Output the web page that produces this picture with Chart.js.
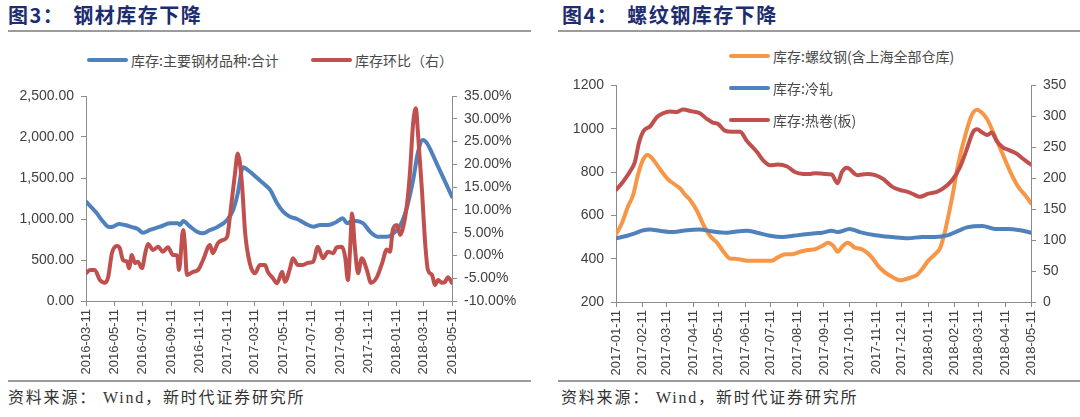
<!DOCTYPE html>
<html lang="zh-CN">
<head>
<meta charset="utf-8">
<script src="https://cdn.jsdelivr.net/npm/chart.js@4.4.1/dist/chart.umd.min.js"></script>
<style>
  html, body { margin: 0; padding: 0; background: #fff; }
  body { width: 1080px; height: 417px; position: relative; overflow: hidden; font-family: "Noto Sans CJK SC", sans-serif; }
  .title { position: absolute; top: 3px; font-size: 20px; font-weight: 700; color: #1d2d6f; white-space: pre; line-height: 24px; letter-spacing: 1.5px; }
  .title span + span { margin-left: 9px; }
  .rule { position: absolute; height: 2px; background: #9b9b9b; }
  .source { position: absolute; top: 388px; font-family: "Liberation Serif", "Noto Sans CJK SC", serif; font-size: 16px; line-height: 20px; color: #333; white-space: pre; letter-spacing: 1.8px; }
  .source span { margin-left: 6px; }
  .lg { position: absolute; display: flex; align-items: center; font-size: 14px; line-height: 18px; color: #4a4a4a; white-space: nowrap; }
  .lg i { display: block; width: 41px; height: 4px; border-radius: 2px; margin-right: 3px; }
  canvas { position: absolute; }
</style>
</head>
<body>
<div class="title" style="left:8px"><span>图3：</span><span>钢材库存下降</span></div>
<div class="title" style="left:562px"><span>图4：</span><span>螺纹钢库存下降</span></div>
<div class="rule" style="left:8px;width:523px;top:30px"></div>
<div class="rule" style="left:558px;width:522px;top:30px"></div>
<div class="rule" style="left:8px;width:523px;top:380px"></div>
<div class="rule" style="left:558px;width:522px;top:380px"></div>
<div class="source" style="left:8px">资料来源：<span>Wind，新时代证券研究所</span></div>
<div class="source" style="left:561px">资料来源：<span>Wind，新时代证券研究所</span></div>

<canvas id="steelChart" width="540" height="300" style="left:0;top:80px;width:540px;height:300px"></canvas>
<canvas id="rebarChart" width="540" height="310" style="left:540px;top:70px;width:540px;height:310px"></canvas>

<script>
// ---- 图3 钢材库存 ----
const steelTicks = ['2016-03-11', '2016-05-11', '2016-07-11', '2016-09-11', '2016-11-11', '2017-01-11', '2017-03-11',
  '2017-05-11', '2017-07-11', '2017-09-11', '2017-11-11', '2018-01-11', '2018-03-11', '2018-05-11'];
const steelNames = ['库存:主要钢材品种:合计', '库存环比（右）'];

const steelTotalDates = ['2016-03-11', '2016-04-03', '2016-04-17', '2016-04-30', '2016-05-08', '2016-05-21', '2016-06-03',
  '2016-06-18', '2016-07-01', '2016-07-12', '2016-07-27', '2016-08-18', '2016-09-09', '2016-09-26', '2016-09-30',
  '2016-10-07', '2016-10-22', '2016-11-06', '2016-11-19', '2016-12-04', '2016-12-21', '2017-01-10', '2017-01-23',
  '2017-02-02', '2017-02-13', '2017-02-24', '2017-03-16', '2017-03-29', '2017-04-13', '2017-04-28', '2017-05-11',
  '2017-05-26', '2017-06-10', '2017-06-27', '2017-07-15', '2017-07-30', '2017-08-16', '2017-09-04', '2017-09-17',
  '2017-09-26', '2017-10-09', '2017-10-31', '2017-11-15', '2017-12-02', '2017-12-21', '2018-01-12', '2018-01-23',
  '2018-02-03', '2018-02-16', '2018-02-26', '2018-03-09', '2018-03-18', '2018-03-29', '2018-04-11', '2018-04-26',
  '2018-05-11'];
const steelTotal = [1211, 1073, 967, 902, 906, 939, 927, 902, 878, 833, 866, 906, 947, 947, 927, 975, 906, 845, 825, 866,
  906, 988, 1110, 1313, 1630, 1597, 1500, 1435, 1354, 1191, 1089, 1028, 1000, 947, 906, 927, 927, 967, 1008, 947, 979,
  947, 845, 784, 784, 866, 967, 1150, 1476, 1801, 1963, 1923, 1801, 1638, 1455, 1272];

const steelChgDates = ['2016-03-11', '2016-03-20', '2016-03-30', '2016-04-10', '2016-04-21', '2016-04-28', '2016-05-06',
  '2016-05-17', '2016-05-23', '2016-05-30', '2016-06-08', '2016-06-12', '2016-06-18', '2016-06-25', '2016-07-01',
  '2016-07-10', '2016-07-17', '2016-07-23', '2016-08-03', '2016-08-14', '2016-08-24', '2016-09-04', '2016-09-15',
  '2016-09-24', '2016-09-28', '2016-10-07', '2016-10-11', '2016-10-15', '2016-10-28', '2016-11-08', '2016-11-19',
  '2016-12-04', '2016-12-10', '2016-12-21', '2017-01-01', '2017-01-10', '2017-01-16', '2017-01-27', '2017-02-02',
  '2017-02-11', '2017-02-18', '2017-02-28', '2017-03-11', '2017-03-22', '2017-04-02', '2017-04-08', '2017-04-19',
  '2017-04-28', '2017-05-09', '2017-05-15', '2017-05-26', '2017-06-01', '2017-06-12', '2017-06-23', '2017-07-04',
  '2017-07-15', '2017-07-25', '2017-08-05', '2017-08-16', '2017-08-27', '2017-09-04', '2017-09-15', '2017-09-22',
  '2017-09-28', '2017-10-03', '2017-10-07', '2017-10-13', '2017-10-20', '2017-10-28', '2017-11-08', '2017-11-17',
  '2017-11-30', '2017-12-11', '2017-12-21', '2017-12-28', '2018-01-03', '2018-01-12', '2018-01-19', '2018-01-25',
  '2018-02-03', '2018-02-09', '2018-02-16', '2018-02-22', '2018-02-26', '2018-03-07', '2018-03-14', '2018-03-20',
  '2018-03-29', '2018-04-04', '2018-04-11', '2018-04-19', '2018-04-26', '2018-05-02', '2018-05-11'];
const steelChg = [-3.9, -3.2, -3.2, -5.4, -6.0, -4.7, 0.5, 2.1, 1.6, -1.0,
  -1.4, -2.8, 0.1, -1.7, -1.4, -2.8, 0.5, 2.5, 1.2, 1.9,
  0.8, 1.8, 0.1, 0.0, -3.2, 5.6, 1.9, -4.3, -3.6, -3.2,
  -1.0, 2.3, 0.5, 2.7, 3.4, 4.1, 8.5, 18.0, 22.4, 15.8,
  4.9, -1.7, -3.9, -2.1, -2.1, -3.6, -5.0, -6.1, -3.6, -5.8,
  -2.8, -0.6, -2.1, -2.1, -1.6, -1.4, 1.9, -0.6, 0.8, 0.5,
  1.8, 1.9, -0.3, -5.4, 1.9, 9.2, 1.9, -3.9, -0.6, -3.2,
  -6.0, -4.7, -1.7, 1.3, 0.8, 5.6, 6.7, 4.5, 6.0, 11.4,
  18.0, 29.0, 32.3, 27.5, 14.4, 2.7, -3.2, -4.3, -6.5, -5.4,
  -6.0, -5.8, -4.8, -6.0];

// ---- 图4 螺纹钢库存 ----
const rebarTicks = ['2017-01-11', '2017-02-11', '2017-03-11', '2017-04-11', '2017-05-11', '2017-06-11', '2017-07-11',
  '2017-08-11', '2017-09-11', '2017-10-11', '2017-11-11', '2017-12-11', '2018-01-11', '2018-02-11', '2018-03-11',
  '2018-04-11', '2018-05-11'];
const rebarNames = ['库存:螺纹钢(含上海全部仓库)', '库存:冷轧', '库存:热卷(板)'];

const rebarDates = ['2017-01-11', '2017-01-18', '2017-01-25', '2017-01-31', '2017-02-06', '2017-02-12', '2017-02-17',
  '2017-02-23', '2017-03-03', '2017-03-12', '2017-03-19', '2017-03-27', '2017-04-02', '2017-04-07', '2017-04-16',
  '2017-04-23', '2017-05-01', '2017-05-09', '2017-05-16', '2017-05-24', '2017-06-01', '2017-06-13', '2017-06-25',
  '2017-07-04', '2017-07-12', '2017-07-19', '2017-07-28', '2017-08-05', '2017-08-14', '2017-08-23', '2017-09-01',
  '2017-09-09', '2017-09-16', '2017-09-22', '2017-09-27', '2017-10-03', '2017-10-09', '2017-10-17', '2017-10-25',
  '2017-10-31', '2017-11-06', '2017-11-13', '2017-11-21', '2017-11-30', '2017-12-09', '2017-12-15', '2017-12-23',
  '2017-12-29', '2018-01-04', '2018-01-11', '2018-01-19', '2018-01-25', '2018-01-31', '2018-02-08', '2018-02-15',
  '2018-02-23', '2018-03-03', '2018-03-09', '2018-03-15', '2018-03-21', '2018-03-28', '2018-04-07', '2018-04-16',
  '2018-04-26', '2018-05-04', '2018-05-11'];
const rebarStock = [512, 565, 641, 694, 792, 860, 879, 860, 815, 770,
  747, 724, 694, 674, 618, 558, 505, 474, 436, 401,
  399, 391, 391, 391, 391, 406, 421, 421, 432, 440,
  444, 459, 474, 459, 432, 459, 474, 451, 444, 429,
  406, 368, 338, 315, 300, 305, 315, 326, 353, 391,
  421, 451, 535, 686, 838, 967, 1065, 1088, 1073, 1042,
  982, 891, 808, 732, 694, 656];

const coldDates = ['2017-01-11', '2017-01-24', '2017-02-02', '2017-02-12', '2017-02-20', '2017-03-03', '2017-03-19',
  '2017-04-04', '2017-04-19', '2017-05-04', '2017-05-21', '2017-06-01', '2017-06-13', '2017-06-25', '2017-07-10',
  '2017-07-25', '2017-08-06', '2017-08-18', '2017-09-01', '2017-09-09', '2017-09-20', '2017-09-27', '2017-10-11',
  '2017-10-23', '2017-11-10', '2017-11-30', '2017-12-18', '2018-01-04', '2018-01-19', '2018-02-03', '2018-02-15',
  '2018-02-26', '2018-03-15', '2018-03-30', '2018-04-14', '2018-04-28', '2018-05-11'];
const coldStock = [103, 107, 111, 116, 117, 115, 113, 116, 117, 114,
  112, 114, 115, 112, 107, 105, 107, 109, 111, 112,
  115, 113, 118, 113, 108, 105, 103, 105, 105, 108,
  115, 121, 123, 118, 118, 116, 112];

const hotDates = ['2017-01-11', '2017-01-19', '2017-01-27', '2017-02-02', '2017-02-07', '2017-02-12', '2017-02-20',
  '2017-02-28', '2017-03-07', '2017-03-15', '2017-03-23', '2017-03-30', '2017-04-10', '2017-04-19', '2017-04-27',
  '2017-05-04', '2017-05-10', '2017-05-18', '2017-05-27', '2017-06-05', '2017-06-13', '2017-06-25', '2017-07-02',
  '2017-07-10', '2017-07-19', '2017-07-30', '2017-08-08', '2017-08-18', '2017-08-26', '2017-09-01', '2017-09-12',
  '2017-09-20', '2017-09-27', '2017-10-02', '2017-10-08', '2017-10-20', '2017-10-31', '2017-11-10', '2017-11-19',
  '2017-11-30', '2017-12-09', '2017-12-18', '2017-12-26', '2018-01-01', '2018-01-11', '2018-01-21', '2018-01-28',
  '2018-02-08', '2018-02-17', '2018-02-25', '2018-03-04', '2018-03-09', '2018-03-15', '2018-03-21', '2018-03-26',
  '2018-04-01', '2018-04-08', '2018-04-16', '2018-04-25', '2018-05-02', '2018-05-11'];
const hotStock = [181, 194, 210, 226, 258, 276, 284, 299, 305, 308,
  307, 311, 308, 305, 296, 290, 288, 277, 275, 275,
  260, 242, 229, 221, 222, 219, 210, 207, 207, 208,
  207, 206, 192, 210, 217, 205, 207, 205, 199, 186,
  181, 178, 173, 170, 175, 178, 183, 197, 218, 247,
  274, 279, 274, 270, 274, 260, 250, 245, 239, 231,
  222];

const BLUE = '#4f81bd', RED = '#c0504d', ORANGE = '#f79646';
const AXIS = '#8c8c8c', TXT = '#404040';

// days since epoch, so the x axis is a real date axis
const day = (s) => Date.parse(s + 'T00:00:00Z') / 864e5;
const pts = (dates, vals) => dates.map((d, i) => ({ x: day(d), y: vals[i] }));

function xAxis(labels, height) {
  const vals = labels.map(day);
  return {
    type: 'linear',
    min: vals[0],
    max: vals[vals.length - 1],
    afterBuildTicks: (s) => { s.ticks = vals.map((v) => ({ value: v })); },
    afterFit: (s) => { s.height = height; },
    ticks: {
      autoSkip: false, minRotation: 90, maxRotation: 90, padding: 3, color: TXT,
      font: { family: 'Liberation Sans', size: 13 },
      callback: (v, i) => labels[i],
    },
    grid: { drawOnChartArea: false, color: AXIS, tickLength: 5 },
    border: { color: AXIS },
  };
}

function yAxis(position, min, max, step, width, fmt) {
  return {
    type: 'linear',
    position,
    min,
    max,
    afterFit: (s) => { s.width = width; },
    ticks: { stepSize: step, padding: 7, color: TXT, font: { family: 'Liberation Sans', size: 14 }, callback: fmt },
    grid: { drawOnChartArea: false, color: AXIS, tickLength: 5 },
    border: { color: AXIS },
  };
}

const lineDefaults = {
  borderWidth: 4,
  pointRadius: 0,
  cubicInterpolationMode: 'monotone',
  borderCapStyle: 'round',
  borderJoinStyle: 'round',
};

function baseOptions(padTop, scales) {
  return {
    responsive: false,
    animation: false,
    layout: { padding: { top: padTop, left: 0, right: 0, bottom: 0 } },
    plugins: { legend: { display: false } },
    scales,
  };
}

new Chart(document.getElementById('steelChart'), {
  type: 'line',
  data: {
    datasets: [
      { ...lineDefaults, label: steelNames[0], data: pts(steelTotalDates, steelTotal), borderColor: BLUE, yAxisID: 'y', order: 2 },
      { ...lineDefaults, label: steelNames[1], data: pts(steelChgDates, steelChg), borderColor: RED, yAxisID: 'y1', order: 1 },
    ],
  },
  options: baseOptions(16, {
    x: xAxis(steelTicks, 79),
    y: yAxis('left', 0, 2500, 500, 86, (v) => v.toLocaleString('en-US', { minimumFractionDigits: 2, maximumFractionDigits: 2 })),
    y1: yAxis('right', -10, 35, 5, 88, (v) => v.toFixed(2) + '%'),
  }),
});

new Chart(document.getElementById('rebarChart'), {
  type: 'line',
  data: {
    datasets: [
      { ...lineDefaults, label: rebarNames[0], data: pts(rebarDates, rebarStock), borderColor: ORANGE, yAxisID: 'y', order: 3 },
      { ...lineDefaults, label: rebarNames[1], data: pts(coldDates, coldStock), borderColor: BLUE, yAxisID: 'y1', order: 2 },
      { ...lineDefaults, label: rebarNames[2], data: pts(hotDates, hotStock), borderColor: RED, yAxisID: 'y1', order: 1 },
    ],
  },
  options: baseOptions(12, {
    x: xAxis(rebarTicks, 78),
    y: yAxis('left', 200, 1200, 200, 76, (v) => String(v)),
    y1: yAxis('right', 0, 350, 50, 49, (v) => String(v)),
  }),
});

// HTML legends, placed like the original
function addLegend(names, colors, spots) {
  names.forEach((name, i) => {
    const el = document.createElement('div');
    el.className = 'lg';
    el.style.left = spots[i][0] + 'px';
    el.style.top = (spots[i][1] - 9) + 'px';
    const sw = document.createElement('i');
    sw.style.background = colors[i];
    el.appendChild(sw);
    el.appendChild(document.createTextNode(name));
    document.body.appendChild(el);
  });
}
addLegend(steelNames, [BLUE, RED], [[87, 60], [311, 60]]);
addLegend(rebarNames, [ORANGE, BLUE, RED], [[729, 56], [729, 88], [729, 120]]);
</script>
</body>
</html>
